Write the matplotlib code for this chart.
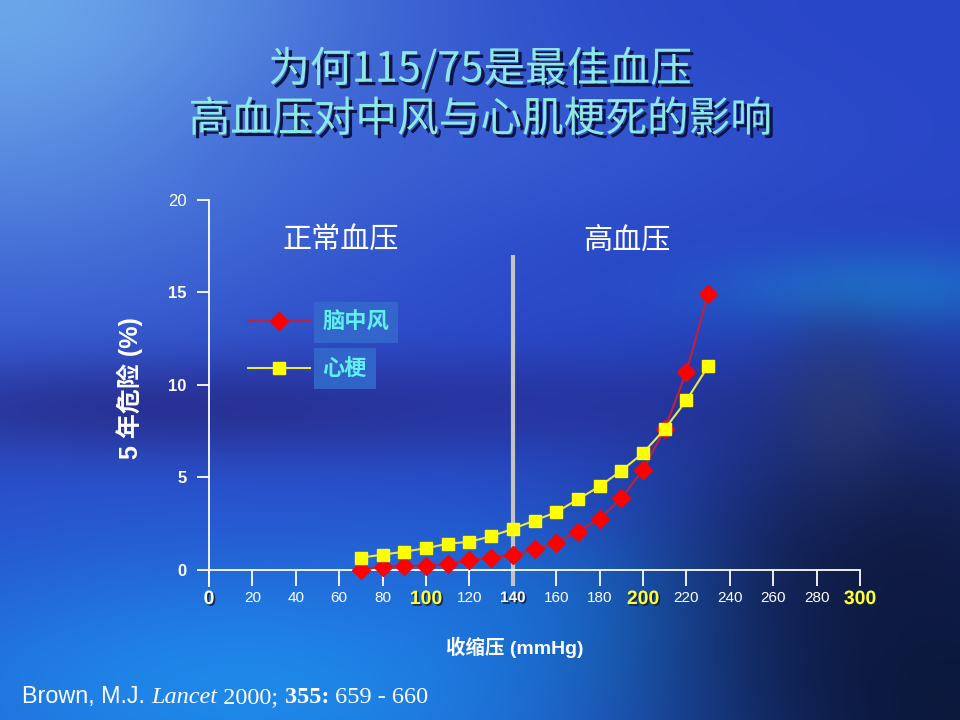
import numpy as np
import matplotlib
matplotlib.use('Agg')
import matplotlib.pyplot as plt
import matplotlib.patheffects as pe
from matplotlib.lines import Line2D

plt.rcParams['font.family'] = ['Liberation Sans', 'Noto Sans CJK SC', 'DejaVu Sans']
CJK = ['Noto Sans CJK SC', 'DejaVu Sans']
MIX = ['Liberation Sans', 'Noto Sans CJK SC', 'DejaVu Sans']

# ---------- 数据 ----------
sbp = [70, 80, 90, 100, 110, 120, 130, 140, 150, 160, 170, 180, 190, 200, 210, 220, 230]
stroke = [0.0, 0.15, 0.2, 0.2, 0.3, 0.5, 0.65, 0.8, 1.1, 1.45, 2.05, 2.75, 3.85, 5.4, 7.6, 10.7, 14.9]
mi = [0.65, 0.8, 0.97, 1.15, 1.4, 1.5, 1.8, 2.2, 2.65, 3.1, 3.8, 4.5, 5.35, 6.3, 7.6, 9.15, 11.0]
series_names = ['脑中风', '心梗']
x_ticks = list(range(0, 301, 20))
y_ticks = [0, 5, 10, 15, 20]
threshold = 140

W, H = 960, 720
fig = plt.figure(figsize=(W / 100, H / 100), dpi=100)

# ---------- 背景渐变 ----------
yy, xx = np.mgrid[0:H, 0:W].astype(float)
img = np.ones((H, W, 3)) * np.array([40, 70, 200]) / 255.0


def blob(cx, cy, sx, sy, color, strength=1.0):
    global img
    w = strength * np.exp(-(((xx - cx) / sx) ** 2 + ((yy - cy) / sy) ** 2))
    c = np.array(color) / 255.0
    img = img * (1 - w[..., None]) + c * w[..., None]


blob(0, 0, 380, 280, (110, 170, 235), 0.95)
blob(480, 140, 300, 80, (60, 100, 215), 0.5)
blob(200, 410, 420, 50, (40, 44, 140), 0.9)
blob(520, 400, 250, 40, (40, 50, 160), 0.5)
blob(880, 290, 160, 40, (30, 130, 225), 0.8)
blob(250, 690, 440, 150, (30, 140, 235), 0.95)
blob(580, 620, 180, 90, (25, 125, 230), 0.7)
blob(900, 560, 220, 190, (20, 30, 75), 0.92)
blob(960, 720, 280, 220, (10, 22, 55), 0.95)
blob(840, 400, 60, 80, (45, 60, 110), 0.6)
img = np.clip(img, 0, 1)

bg = fig.add_axes([0, 0, 1, 1], zorder=0)
bg.imshow(img, aspect='auto', interpolation='bilinear')
bg.axis('off')

# ---------- 主图 ----------
ax = fig.add_axes([209 / W, 1 - 585.6 / H, (860 - 209) / W, (585.6 - 200) / H], zorder=1)
ax.patch.set_alpha(0)
ax.set_xlim(0, 300)
ax.set_ylim(-0.87, 20)

for s in ['top', 'right']:
    ax.spines[s].set_visible(False)
ax.spines['bottom'].set_position(('data', 0))
for s in ['left', 'bottom']:
    ax.spines[s].set_color('white')
    ax.spines[s].set_linewidth(1.3)

ax.vlines(threshold, -0.87, 17.0, color='#c4c4c4', lw=3, zorder=2)

ax.plot(sbp, stroke, color='#c0203c', lw=1.5, marker='D', ms=9.5,
        mfc='#ff0000', mec='#ff0000', zorder=3)
ax.plot(sbp, mi, color='#e8e850', lw=1.5, marker='s', ms=9,
        mfc='#ffff00', mec='#ffff00', zorder=4)

# y 轴刻度
ax.set_yticks(y_ticks)
ax.set_yticklabels([str(v) for v in y_ticks])
ax.tick_params(axis='y', direction='out', length=9, width=1.3, color='white',
               labelcolor='white', labelsize=12, pad=7)
for lab in ax.get_yticklabels():
    if lab.get_text() != '20':
        lab.set_fontweight('bold')

# x 轴刻度
ax.set_xticks(x_ticks)
ax.set_xticklabels([str(v) for v in x_ticks])
ax.tick_params(axis='x', direction='out', length=11.5, width=1.3, color='white',
               labelcolor='white', labelsize=11, pad=4)
shadow = [pe.SimplePatchShadow(offset=(1.2, -1.2), shadow_rgbFace='#102040', alpha=0.9), pe.Normal()]
for lab in ax.get_xticklabels():
    t = lab.get_text()
    if t == '0':
        lab.set_fontsize(14)
        lab.set_fontweight('bold')
        lab.set_path_effects(shadow)
    elif t in ('100', '200', '300'):
        lab.set_fontsize(14)
        lab.set_fontweight('bold')
        lab.set_color('#ffff33')
        lab.set_path_effects(shadow)
    elif t == '140':
        lab.set_fontweight('bold')
        lab.set_path_effects(shadow)

ax.set_xlabel('收缩压 (mmHg)', family=MIX, fontsize=14, fontweight='bold', color='white')
ax.xaxis.set_label_coords((515 - 209) / (860 - 209), (585.6 - 637) / (585.6 - 200))
ax.set_ylabel('5 年危险 (%)', family=MIX, fontsize=18, fontweight='bold', color='white')
ax.yaxis.set_label_coords((143 - 209) / (860 - 209), (585.6 - 388) / (585.6 - 200))

# 区域标注
ax.text(341 / W, 1 - 241 / H, '正常血压', transform=fig.transFigure, family=CJK,
        fontsize=21, color='white', ha='center', va='center')
ax.text(627 / W, 1 - 241 / H, '高血压', transform=fig.transFigure, family=CJK,
        fontsize=21, color='white', ha='center', va='center')

# 图例
handles = [
    Line2D([], [], color='#c0203c', lw=1.5, marker='D', ms=9.5, mfc='#ff0000', mec='#ff0000'),
    Line2D([], [], color='#e8e850', lw=1.5, marker='s', ms=9, mfc='#ffff00', mec='#ffff00'),
]
leg = ax.legend(handles, series_names, loc='upper left',
                bbox_to_anchor=(248 / W, 1 - 311 / H), bbox_transform=fig.transFigure,
                frameon=False, borderpad=0, borderaxespad=0, handlelength=2.8,
                handletextpad=0.55, labelspacing=1.05, numpoints=1,
                prop={'family': CJK, 'size': 16, 'weight': 'bold'})
for txt in leg.get_texts():
    txt.set_color('#5ff0f0')
    txt.set_bbox(dict(boxstyle='square,pad=0.4', facecolor='#3468cc', edgecolor='none', alpha=0.9))

# 标题
title_fx = [pe.SimplePatchShadow(offset=(2.5, -2.5), shadow_rgbFace='#0a1040', alpha=0.95), pe.Normal()]
fig.text(0.5, 1 - 69 / H, '为何115/75是最佳血压', family=CJK, fontsize=30,
         color='#8ee8e4', ha='center', va='center', path_effects=title_fx)
fig.text(0.5, 1 - 120 / H, '高血压对中风与心肌梗死的影响', family=CJK, fontsize=30,
         color='#8ee8e4', ha='center', va='center', path_effects=title_fx)

# 文献
t1 = fig.text(22 / W, 1 - 703 / H, 'Brown, M.J. ', family='Liberation Sans',
              fontsize=16.8, color='white', va='baseline')
t2 = ax.annotate('Lancet', xy=(1, 0), xycoords=t1, family='Liberation Serif',
                 style='italic', fontsize=17.5, color='white', va='bottom')
t3 = ax.annotate(' 2000; ', xy=(1, 0), xycoords=t2, family='Liberation Serif',
                 fontsize=17.5, color='white', va='bottom')
t4 = ax.annotate('355:', xy=(1, 0), xycoords=t3, family='Liberation Serif',
                 fontweight='bold', fontsize=17.5, color='white', va='bottom')
ax.annotate(' 659 - 660', xy=(1, 0), xycoords=t4, family='Liberation Serif',
            fontsize=17.5, color='white', va='bottom')

fig.savefig('out.png', dpi=100)
